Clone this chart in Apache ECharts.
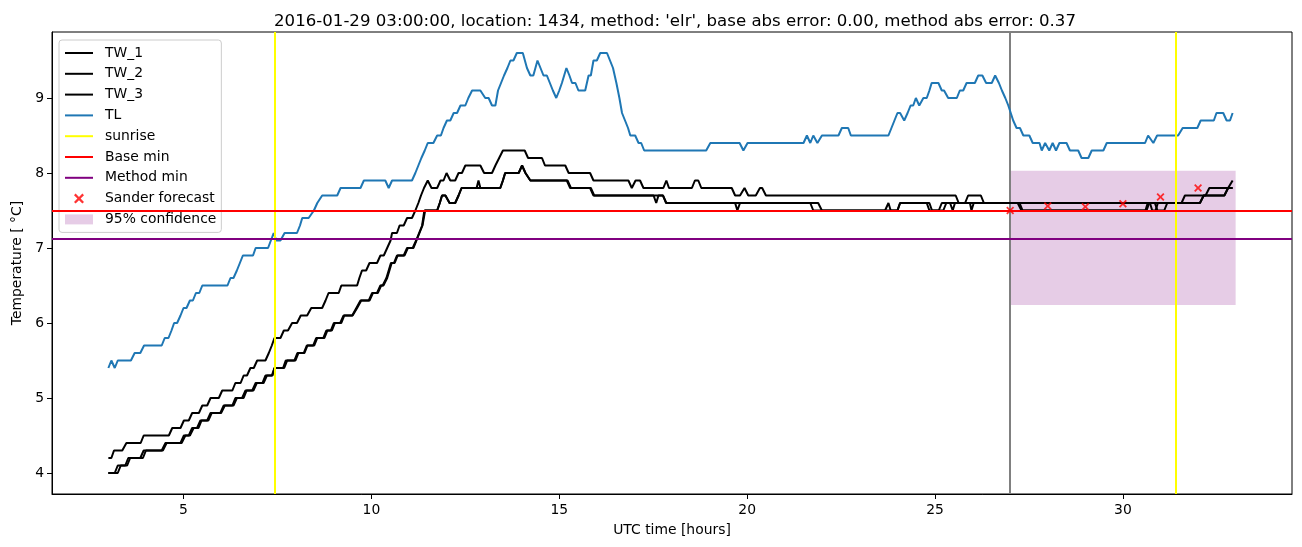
<!DOCTYPE html>
<html>
<head>
<meta charset="utf-8">
<script src="https://cdn.jsdelivr.net/npm/echarts@6/dist/echarts.min.js"></script>
<style>html,body{margin:0;padding:0;background:#fff}#c{width:1302px;height:547px}</style>
</head>
<body>
<div id="c"></div>
<script>
// ---- data (time in UTC hours, temperature in deg C) ----
const TW_1 = [[3.00,4.2],[3.08,4.2],[3.15,4.3],[3.37,4.3],[3.48,4.4],[3.86,4.4],[3.94,4.5],[4.61,4.5],[4.70,4.6],[4.92,4.6],[5.01,4.7],[5.14,4.7],[5.23,4.8],[5.41,4.8],[5.50,4.9],[5.63,4.9],[5.72,5.0],[5.94,5.0],[6.03,5.1],[6.30,5.1],[6.38,5.2],[6.52,5.2],[6.60,5.3],[6.69,5.3],[6.78,5.4],[6.87,5.4],[6.96,5.5],[7.18,5.5],[7.27,5.6],[7.35,5.7],[7.42,5.8],[7.58,5.8],[7.67,5.9],[7.78,5.9],[7.89,6.0],[8.02,6.0],[8.12,6.1],[8.29,6.1],[8.40,6.2],[8.69,6.2],[8.78,6.3],[8.86,6.4],[9.13,6.4],[9.20,6.5],[9.62,6.5],[9.68,6.6],[9.75,6.7],[9.86,6.7],[9.95,6.8],[10.15,6.8],[10.24,6.9],[10.33,6.9],[10.42,7.0],[10.51,7.1],[10.55,7.2],[10.68,7.2],[10.75,7.3],[10.86,7.3],[10.95,7.4],[11.08,7.4],[11.17,7.5],[11.25,7.6],[11.32,7.7],[11.40,7.8],[11.50,7.9],[11.60,7.8],[11.75,7.8],[11.84,7.9],[11.92,7.9],[12.00,8.0],[12.10,7.9],[12.23,7.9],[12.32,8.0],[12.41,8.0],[12.50,8.1],[12.90,8.1],[13.00,8.0],[13.21,8.0],[13.30,8.1],[13.40,8.2],[13.50,8.3],[14.08,8.3],[14.17,8.2],[14.54,8.2],[14.62,8.1],[15.16,8.1],[15.25,8.0],[15.82,8.0],[15.91,7.9],[16.84,7.9],[16.93,7.8],[17.03,7.9],[17.15,7.9],[17.24,7.8],[17.77,7.8],[17.85,7.9],[17.92,7.8],[18.53,7.8],[18.61,7.9],[18.70,7.9],[18.78,7.8],[19.59,7.8],[19.68,7.7],[19.81,7.7],[19.93,7.8],[20.03,7.7],[20.23,7.7],[20.34,7.8],[20.40,7.8],[20.50,7.7],[25.55,7.7],[25.63,7.6],[32.05,7.6],[32.15,7.7],[32.70,7.7],[32.80,7.8],[32.92,7.8]];
const TW_2 = [[3.00,4.0],[3.17,4.0],[3.25,4.1],[3.45,4.1],[3.53,4.2],[3.85,4.2],[3.94,4.3],[4.42,4.3],[4.52,4.4],[4.92,4.4],[5.01,4.5],[5.14,4.5],[5.23,4.6],[5.36,4.6],[5.45,4.7],[5.63,4.7],[5.72,4.8],[5.98,4.8],[6.07,4.9],[6.30,4.9],[6.38,5.0],[6.56,5.0],[6.65,5.1],[6.83,5.1],[6.92,5.2],[7.10,5.2],[7.18,5.3],[7.35,5.3],[7.42,5.4],[7.65,5.4],[7.72,5.5],[7.95,5.5],[8.03,5.6],[8.20,5.6],[8.28,5.7],[8.45,5.7],[8.53,5.8],[8.72,5.8],[8.80,5.9],[8.92,5.9],[9.00,6.0],[9.17,6.0],[9.26,6.1],[9.49,6.1],[9.60,6.2],[9.71,6.3],[9.93,6.3],[10.02,6.4],[10.15,6.4],[10.24,6.5],[10.30,6.5],[10.40,6.6],[10.46,6.7],[10.52,6.8],[10.60,6.8],[10.68,6.9],[10.86,6.9],[10.95,7.0],[11.10,7.0],[11.19,7.1],[11.27,7.2],[11.35,7.3],[11.41,7.5],[11.75,7.5],[11.82,7.6],[11.88,7.7],[11.97,7.7],[12.08,7.6],[12.23,7.6],[12.32,7.7],[12.40,7.8],[12.80,7.8],[12.85,7.9],[12.90,7.8],[13.43,7.8],[13.50,7.9],[13.56,8.0],[13.92,8.0],[14.01,8.1],[14.10,8.0],[14.23,7.9],[15.20,7.9],[15.29,7.8],[15.82,7.8],[15.91,7.7],[17.51,7.7],[17.58,7.6],[17.64,7.7],[17.76,7.7],[17.84,7.6],[19.68,7.6],[19.74,7.5],[19.81,7.6],[21.68,7.6],[21.76,7.5],[23.67,7.5],[23.76,7.6],[23.82,7.5],[24.00,7.5],[24.07,7.6],[24.78,7.6],[24.85,7.5],[25.10,7.5],[25.18,7.6],[25.80,7.6],[25.88,7.7],[26.22,7.7],[26.30,7.6],[27.20,7.6],[27.30,7.5],[30.60,7.5],[30.66,7.6],[30.72,7.6],[30.78,7.5],[30.87,7.5],[30.93,7.6],[31.56,7.6],[31.65,7.7],[32.20,7.7],[32.30,7.8],[32.80,7.8],[32.92,7.9]];
const TW_3 = [[3.00,4.0],[3.25,4.0],[3.33,4.1],[3.50,4.1],[3.58,4.2],[3.92,4.2],[4.00,4.3],[4.45,4.3],[4.55,4.4],[4.95,4.4],[5.05,4.5],[5.17,4.5],[5.27,4.6],[5.40,4.6],[5.48,4.7],[5.66,4.7],[5.75,4.8],[6.00,4.8],[6.10,4.9],[6.33,4.9],[6.42,5.0],[6.60,5.0],[6.68,5.1],[6.86,5.1],[6.95,5.2],[7.13,5.2],[7.22,5.3],[7.37,5.3],[7.42,5.4],[7.68,5.4],[7.76,5.5],[7.98,5.5],[8.06,5.6],[8.22,5.6],[8.30,5.7],[8.48,5.7],[8.56,5.8],[8.75,5.8],[8.83,5.9],[8.95,5.9],[9.03,6.0],[9.20,6.0],[9.28,6.1],[9.50,6.1],[9.62,6.2],[9.73,6.3],[9.95,6.3],[10.04,6.4],[10.17,6.4],[10.26,6.5],[10.32,6.5],[10.42,6.6],[10.48,6.7],[10.54,6.8],[10.62,6.8],[10.70,6.9],[10.88,6.9],[10.97,7.0],[11.12,7.0],[11.20,7.1],[11.28,7.2],[11.36,7.3],[11.43,7.5],[11.75,7.5],[11.82,7.6],[11.88,7.7],[11.97,7.7],[12.08,7.6],[12.23,7.6],[12.32,7.7],[12.40,7.8],[13.43,7.8],[13.50,7.9],[13.56,8.0],[13.92,8.0],[14.01,8.1],[14.10,8.0],[14.23,7.9],[15.22,7.9],[15.31,7.8],[15.84,7.8],[15.93,7.7],[17.76,7.7],[17.85,7.6],[21.89,7.6],[21.99,7.5],[24.00,7.5],[24.07,7.6],[24.85,7.6],[24.92,7.5],[25.22,7.5],[25.30,7.6],[25.40,7.6],[25.47,7.5],[25.53,7.6],[25.93,7.6],[25.97,7.5],[26.03,7.6],[27.25,7.6],[27.33,7.5],[30.63,7.5],[30.70,7.6],[30.85,7.6],[30.92,7.5],[31.10,7.5],[31.18,7.6],[32.05,7.6],[32.15,7.7],[32.70,7.7],[32.80,7.8],[32.92,7.8]];
const TL = [[3.00,5.4],[3.08,5.5],[3.17,5.4],[3.25,5.5],[3.60,5.5],[3.70,5.6],[3.85,5.6],[3.95,5.7],[4.42,5.7],[4.50,5.8],[4.60,5.8],[4.68,5.9],[4.75,6.0],[4.83,6.0],[4.92,6.1],[5.00,6.2],[5.08,6.2],[5.17,6.3],[5.25,6.3],[5.33,6.4],[5.42,6.4],[5.50,6.5],[6.17,6.5],[6.25,6.6],[6.33,6.6],[6.42,6.7],[6.50,6.8],[6.58,6.9],[6.85,6.9],[6.92,7.0],[7.25,7.0],[7.40,7.2],[7.47,7.1],[7.58,7.1],[7.69,7.2],[8.02,7.2],[8.10,7.3],[8.16,7.4],[8.33,7.4],[8.47,7.5],[8.56,7.6],[8.69,7.7],[9.09,7.7],[9.18,7.8],[9.71,7.8],[9.80,7.9],[10.37,7.9],[10.46,7.8],[10.55,7.9],[11.08,7.9],[11.17,8.0],[11.25,8.1],[11.33,8.2],[11.42,8.3],[11.50,8.4],[11.65,8.4],[11.75,8.5],[11.85,8.5],[11.92,8.6],[12.01,8.7],[12.10,8.7],[12.19,8.8],[12.28,8.8],[12.37,8.9],[12.50,8.9],[12.58,9.0],[12.68,9.1],[12.90,9.1],[13.03,9.0],[13.12,9.0],[13.21,8.9],[13.30,8.9],[13.37,9.1],[13.45,9.2],[13.53,9.3],[13.62,9.4],[13.70,9.5],[13.78,9.5],[13.87,9.6],[14.03,9.6],[14.14,9.4],[14.23,9.3],[14.31,9.3],[14.42,9.5],[14.50,9.4],[14.58,9.3],[14.67,9.3],[14.75,9.2],[14.83,9.1],[14.92,9.0],[15.00,9.1],[15.07,9.2],[15.19,9.4],[15.27,9.3],[15.34,9.2],[15.43,9.2],[15.51,9.1],[15.69,9.1],[15.78,9.3],[15.84,9.3],[15.91,9.5],[16.00,9.5],[16.09,9.6],[16.27,9.6],[16.35,9.5],[16.43,9.4],[16.52,9.2],[16.60,9.0],[16.67,8.8],[16.75,8.7],[16.83,8.6],[16.89,8.5],[17.02,8.5],[17.11,8.4],[17.18,8.4],[17.26,8.3],[18.91,8.3],[19.02,8.4],[19.80,8.4],[19.90,8.3],[20.01,8.4],[21.50,8.4],[21.59,8.5],[21.68,8.4],[21.76,8.5],[21.87,8.4],[21.99,8.5],[22.43,8.5],[22.52,8.6],[22.69,8.6],[22.76,8.5],[23.76,8.5],[23.84,8.6],[23.92,8.7],[24.00,8.8],[24.07,8.8],[24.18,8.7],[24.27,8.8],[24.35,8.9],[24.42,8.9],[24.49,9.0],[24.58,8.9],[24.69,9.0],[24.78,9.0],[24.85,9.1],[24.91,9.2],[25.09,9.2],[25.18,9.1],[25.24,9.1],[25.35,9.0],[25.58,9.0],[25.66,9.1],[25.75,9.1],[25.84,9.2],[26.06,9.2],[26.15,9.3],[26.26,9.3],[26.36,9.2],[26.51,9.2],[26.60,9.3],[26.70,9.2],[26.78,9.1],[26.87,9.0],[26.95,8.9],[27.00,8.9],[27.08,8.7],[27.17,8.6],[27.26,8.6],[27.35,8.5],[27.51,8.5],[27.60,8.4],[27.78,8.4],[27.84,8.3],[27.93,8.4],[28.04,8.3],[28.13,8.4],[28.22,8.3],[28.31,8.4],[28.50,8.4],[28.59,8.3],[28.81,8.3],[28.90,8.2],[29.08,8.2],[29.17,8.3],[29.48,8.3],[29.57,8.4],[30.59,8.4],[30.67,8.5],[30.81,8.4],[30.91,8.5],[31.47,8.5],[31.59,8.6],[31.98,8.6],[32.07,8.7],[32.42,8.7],[32.49,8.8],[32.67,8.8],[32.76,8.7],[32.85,8.7],[32.92,8.8]];
const sunriseTimes = [7.42, 31.41];
const baseMin = 7.5;
const methodMin = 7.13;
const forecastStart = 27;
const sanderHours = [27, 28, 29, 30, 31, 32];
const sanderValues = [7.50, 7.56, 7.55, 7.59, 7.68, 7.80];
const confidenceX = [27, 33];
const confidenceY = [6.24, 8.03];
const xTicks = [5, 10, 15, 20, 25, 30];
const yTicks = [4, 5, 6, 7, 8, 9];
const titleText = "2016-01-29 03:00:00, location: 1434, method: 'elr', base abs error: 0.00, method abs error: 0.37";

const FONT = 'DejaVu Sans';
const FS = 13.9;
const LW = 2;
const XMARK = 'path://M0,1.6L1.6,0L5,3.4L8.4,0L10,1.6L6.6,5L10,8.4L8.4,10L5,6.6L1.6,10L0,8.4L3.4,5Z';
const noLbl = {show: false};
function mline(data, color, z) {
  return {silent: true, symbol: ['none', 'none'], label: noLbl, emphasis: {disabled: true},
    lineStyle: {color: color, width: LW, type: 'solid'}, data: data, z: z, animation: false};
}
function lineSeries(name, data, color, z) {
  return {name: name, type: 'line', data: data, symbol: 'none', showSymbol: false, color: color,
    lineStyle: {color: color, width: LW}, z: z, silent: true, animation: false};
}
const hideSym = {opacity: 0};

const chart = echarts.init(document.getElementById('c'), null, {renderer: 'canvas'});
const option = {
  animation: false,
  backgroundColor: '#ffffff',
  textStyle: {fontFamily: FONT, color: '#000'},
  title: {text: titleText, left: 670, top: 8, textAlign: 'center',
    textStyle: {fontFamily: FONT, fontSize: 16.6, fontWeight: 'normal', color: '#000'}},
  grid: {left: 52, right: 10, top: 32, bottom: 53, show: true, borderColor: '#000', borderWidth: 1, backgroundColor: 'transparent'},
  legend: {
    orient: 'vertical', left: 59, top: 40, padding: [6, 5, 6, 5],
    itemWidth: 28, itemHeight: 10, itemGap: 6.8,
    borderColor: '#cccccc', borderWidth: 1, borderRadius: 3, backgroundColor: 'rgba(255,255,255,0.8)',
    textStyle: {fontFamily: FONT, fontSize: FS, color: '#000', lineHeight: 14, padding: [0, 0, 0, 7]},
    selectedMode: false,
    data: [
      {name: 'TW_1', itemStyle: hideSym}, {name: 'TW_2', itemStyle: hideSym}, {name: 'TW_3', itemStyle: hideSym},
      {name: 'TL', itemStyle: hideSym}, {name: 'sunrise', itemStyle: hideSym}, {name: 'Base min', itemStyle: hideSym},
      {name: 'Method min', itemStyle: hideSym},
      {name: 'Sander forecast', icon: XMARK},
      {name: '95% confidence', icon: 'rect'}]
  },
  xAxis: {
    type: 'value', min: 1.5, max: 34.5,
    name: 'UTC time [hours]', nameLocation: 'middle', nameGap: 29,
    nameTextStyle: {fontFamily: FONT, fontSize: FS, color: '#000'},
    axisLine: {show: true, onZero: false, lineStyle: {color: '#000', width: 1}},
    axisTick: {show: true, length: 5, lineStyle: {color: '#000'}, customValues: xTicks},
    axisLabel: {fontFamily: FONT, fontSize: FS, color: '#000', margin: 9, customValues: xTicks,
      formatter: v => String(v)},
    splitLine: {show: false}
  },
  yAxis: {
    type: 'value', min: 3.72, max: 9.88,
    name: 'Temperature [ °C]', nameLocation: 'middle', nameGap: 27,
    nameTextStyle: {fontFamily: FONT, fontSize: FS, color: '#000'},
    axisLine: {show: true, onZero: false, lineStyle: {color: '#000', width: 1}},
    axisTick: {show: true, length: 5, lineStyle: {color: '#000'}, customValues: yTicks},
    axisLabel: {fontFamily: FONT, fontSize: FS, color: '#000', margin: 8, customValues: yTicks,
      formatter: v => String(v)},
    splitLine: {show: false}
  },
  series: [
    {name: '95% confidence', type: 'line', data: [], symbol: 'none', color: 'rgba(128,0,128,0.2)', z: 1,
      markArea: {silent: true, z: 1, itemStyle: {color: 'rgba(128,0,128,0.2)'}, label: noLbl,
        data: [[{xAxis: confidenceX[0], yAxis: confidenceY[0]}, {xAxis: confidenceX[1], yAxis: confidenceY[1]}]]}},
    {name: 'forecast start', type: 'line', data: [], symbol: 'none', color: '#808080', z: 2,
      markLine: mline([{xAxis: forecastStart}], '#808080', 2)},
    lineSeries('TW_1', TW_1, '#000000', 3),
    lineSeries('TW_2', TW_2, '#000000', 3),
    lineSeries('TW_3', TW_3, '#000000', 3),
    lineSeries('TL', TL, '#1f77b4', 4),
    {name: 'sunrise', type: 'line', data: [], symbol: 'none', color: '#ffff00', lineStyle: {color: '#ffff00', width: LW}, z: 5,
      markLine: mline(sunriseTimes.map(t => ({xAxis: t})), '#ffff00', 5)},
    {name: 'Base min', type: 'line', data: [], symbol: 'none', color: '#ff0000', lineStyle: {color: '#ff0000', width: LW}, z: 5,
      markLine: mline([{yAxis: baseMin}], '#ff0000', 5)},
    {name: 'Method min', type: 'line', data: [], symbol: 'none', color: '#800080', lineStyle: {color: '#800080', width: LW}, z: 5,
      markLine: mline([{yAxis: methodMin}], '#800080', 5)},
    {name: 'Sander forecast', type: 'scatter', data: sanderHours.map((h, i) => [h, sanderValues[i]]),
      symbol: XMARK, symbolSize: 8, itemStyle: {color: '#ff0000'}, color: '#ff0000', z: 6, silent: true}
  ]
};
chart.setOption(option);
</script>
</body>
</html>
